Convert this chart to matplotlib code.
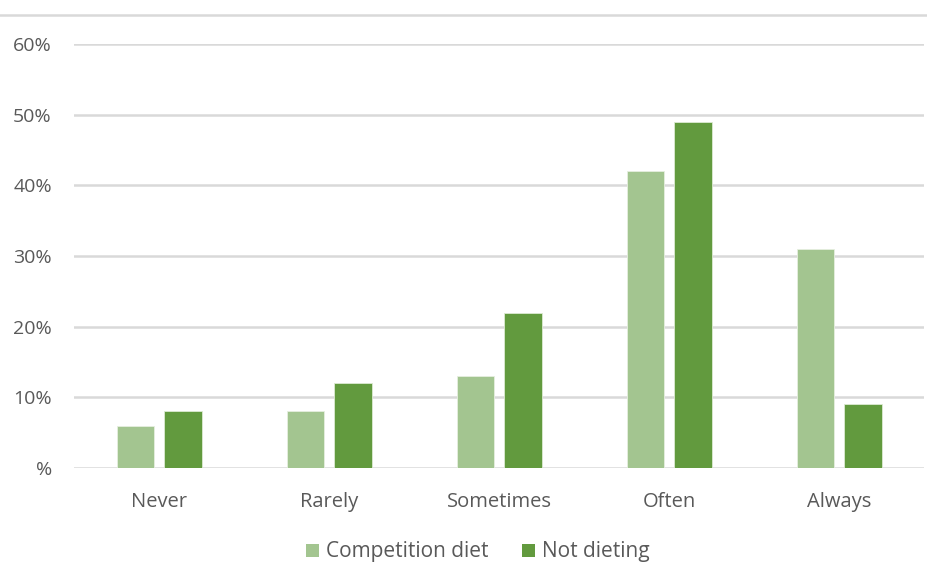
import numpy as np
import matplotlib.pyplot as plt
from matplotlib.ticker import FixedLocator, FixedFormatter
from matplotlib.patches import Patch
from matplotlib.lines import Line2D

categories = ["Never", "Rarely", "Sometimes", "Often", "Always"]
competition_diet = [6, 8, 13, 42, 31]
not_dieting = [8, 12, 22, 49, 9]
series_labels = ["Competition diet", "Not dieting"]
y_ticks = [0, 10, 20, 30, 40, 50, 60]
y_tick_labels = ["%", "10%", "20%", "30%", "40%", "50%", "60%"]

light_green = "#A3C590"
dark_green = "#629A3E"
grid_color = "#D9D9D9"
text_color = "#595959"

plt.rcParams["font.family"] = ["Open Sans", "DejaVu Sans"]

fig = plt.figure(figsize=(9.28, 5.63), dpi=100)
fig.set_facecolor("white")
ax = fig.add_axes([74 / 928, (563 - 468) / 563, 850 / 928, (468 - 44) / 563])

x = np.arange(len(categories))
w = 0.218
ax.bar(x - 0.141, competition_diet, w, color=light_green, edgecolor="#E6EFE0", linewidth=0.6, zorder=3)
ax.bar(x + 0.141, not_dieting, w, color=dark_green, edgecolor="#DDEBD3", linewidth=0.6, zorder=3)

ax.set_xlim(-0.5, len(categories) - 0.5)
ax.set_ylim(0, 60)
ax.yaxis.set_major_locator(FixedLocator(y_ticks))
ax.yaxis.set_major_formatter(FixedFormatter(y_tick_labels))
ax.set_xticks(x)
ax.set_xticklabels(categories)

ax.grid(True, axis="y", color=grid_color, linewidth=1.8, zorder=0)
ax.set_axisbelow(True)
for s in ax.spines.values():
    s.set_visible(False)
ax.tick_params(axis="both", length=0, colors=text_color)
ax.tick_params(axis="y", pad=16, labelsize=14)
ax.tick_params(axis="x", pad=17, labelsize=14.5)

# rule across the top of the chart frame
fig.add_artist(Line2D([0, 1], [1 - 15 / 563, 1 - 15 / 563], color=grid_color, linewidth=1.8))

handles = [Patch(facecolor=light_green), Patch(facecolor=dark_green)]
fig.legend(handles, series_labels, loc="center", bbox_to_anchor=(478 / 928, 1 - 552 / 563),
           ncol=2, frameon=False, fontsize=15, labelcolor=text_color,
           handlelength=0.6, handleheight=0.6, handletextpad=0.35, columnspacing=1.6)

fig.savefig("out.png", dpi=100, facecolor="white")
